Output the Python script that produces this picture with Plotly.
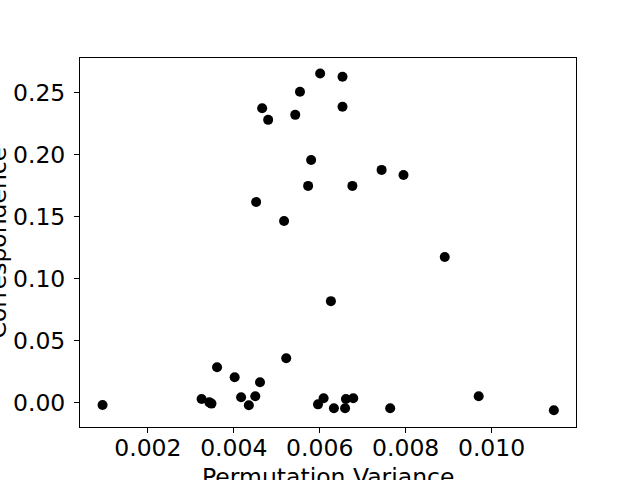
import plotly.graph_objects as go

# values
perm_variance = [
    0.000945, 0.00325, 0.00343, 0.00348, 0.00361, 0.00402, 0.00417, 0.00435,
    0.00450, 0.00461, 0.00522, 0.00596, 0.00609, 0.00626, 0.00633, 0.00659,
    0.00661, 0.00678, 0.00764, 0.00891, 0.00970, 0.01145,
    0.00601, 0.00554, 0.00466, 0.00480, 0.00543, 0.00580, 0.00573, 0.00452,
    0.00517, 0.00653, 0.00653, 0.00744, 0.00795, 0.00676,
]
correspondence = [
    -0.0016, 0.0032, 0.0005, -0.0005, 0.0287, 0.0207, 0.0046, -0.0019,
    0.0054, 0.0167, 0.0360, -0.0011, 0.0038, 0.0820, -0.0043, -0.0043,
    0.0032, 0.0038, -0.0043, 0.1175, 0.0054, -0.0059,
    0.2653, 0.2506, 0.2373, 0.2280, 0.2320, 0.1957, 0.1748, 0.1619,
    0.1465, 0.2627, 0.2385, 0.1877, 0.1836, 0.1748,
]
x_ticks = [0.002, 0.004, 0.006, 0.008, 0.010]
x_tick_labels = ["0.002", "0.004", "0.006", "0.008", "0.010"]
y_ticks = [0.00, 0.05, 0.10, 0.15, 0.20, 0.25]
y_tick_labels = ["0.00", "0.05", "0.10", "0.15", "0.20", "0.25"]

font = dict(family="DejaVu Sans", size=23.5, color="black")

fig = go.Figure(
    go.Scatter(
        x=perm_variance,
        y=correspondence,
        mode="markers",
        marker=dict(color="black", size=10, line=dict(width=0)),
    )
)

axis_style = dict(
    showgrid=False,
    zeroline=False,
    showline=True,
    linecolor="black",
    linewidth=1,
    mirror=True,
    ticks="outside",
    ticklen=5,
    tickwidth=1,
    tickcolor="black",
    tickfont=font,
)
fig.update_xaxes(range=[0.00042, 0.011965], tickvals=x_ticks, ticktext=x_tick_labels,
                 ticklabelstandoff=-5, **axis_style)
fig.update_yaxes(range=[-0.01935, 0.2778], tickvals=y_ticks, ticktext=y_tick_labels,
                 ticklabelstandoff=4, **axis_style)

fig.add_annotation(
    text="Permutation Variance", xref="paper", yref="paper", x=0.5, y=-0.092,
    xanchor="center", yanchor="top", showarrow=False, font=font,
)
fig.add_annotation(
    text="Correspondence", xref="paper", yref="paper", x=-80 / 496, y=0.5,
    xanchor="center", yanchor="middle", textangle=-90, showarrow=False, font=font,
    xshift=-3,
)

fig.update_layout(
    width=640,
    height=480,
    margin=dict(l=80, r=64, t=58, b=53),
    paper_bgcolor="white",
    plot_bgcolor="white",
    showlegend=False,
)
# drop the page's default 8px body margin so the figure sits at the window's corner
fig.write_html("out.html", config={"displayModeBar": False},
               post_script="document.body.style.margin='0';")
